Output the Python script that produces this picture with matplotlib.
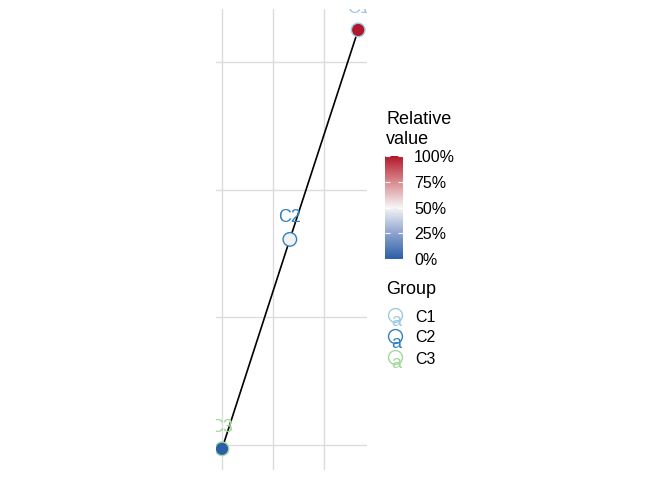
import matplotlib
matplotlib.use("Agg")
import matplotlib.pyplot as plt
from matplotlib.colors import LinearSegmentedColormap
from matplotlib.lines import Line2D
import numpy as np

plt.rcParams['font.family'] = ['Liberation Sans', 'DejaVu Sans']

groups = ["C1", "C2", "C3"]
x_vals = [2.67, 1.33, 0.0]
y_vals = [3.25, 1.61, -0.03]
rel_vals = [1.0, 0.49, 0.0]
group_colors = ["#9ecae1", "#3182bd", "#a1d99b"]
cbar_ticks = [0, 0.25, 0.5, 0.75, 1.0]
cbar_labels = ["0%", "25%", "50%", "75%", "100%"]

W, H = 672, 480
fig = plt.figure(figsize=(6.72, 4.8), dpi=100)

def box(x0, y0, x1, y1):
    # pixel box (top-left origin) -> figure fraction rect
    return [x0 / W, 1 - y1 / H, (x1 - x0) / W, (y1 - y0) / H]

cmap = LinearSegmentedColormap.from_list(
    "rel", ["#2b5ea7", "#8fa3cf", "#f5f5f5", "#d88a8f", "#b2182b"])

ax = fig.add_axes(box(216, 9, 367, 470))
ax.set_xlim(-0.118, 2.843)
ax.set_ylim(-0.196, 3.414)
ax.set_xticks([0, 1, 2])
ax.set_yticks([0, 1, 2, 3])
ax.grid(True, color="#dcdcdc", linewidth=1.0)
ax.set_axisbelow(True)
ax.tick_params(length=0, labelbottom=False, labelleft=False)
for s in ax.spines.values():
    s.set_visible(False)

ax.plot(x_vals, y_vals, color="black", linewidth=1.2, zorder=2)
sc = ax.scatter(x_vals, y_vals, c=rel_vals, cmap=cmap, vmin=0, vmax=1,
                s=95, edgecolors=group_colors, linewidths=1.0, zorder=3)
for g, xv, yv, col in zip(groups, x_vals, y_vals, group_colors):
    ax.annotate(g, (xv, yv), xytext=(0, 15.5), textcoords="offset points",
                ha="center", va="center", fontsize=13, color=col,
                annotation_clip=False, clip_on=True)

# colour bar legend
cax = fig.add_axes(box(385, 156, 403, 259))
cb = fig.colorbar(sc, cax=cax, ticks=cbar_ticks)
cb.outline.set_visible(False)
cb.ax.set_yticklabels(cbar_labels, fontsize=11.5)
cb.ax.tick_params(direction="in", color="white", length=3.5, width=0.8,
                  left=True, right=True, pad=8)
fig.text(386 / W, 1 - 111 / H, "Relative\nvalue", fontsize=13,
         va="top", ha="left", linespacing=1.2)

# group legend
fig.text(386 / W, 1 - 289 / H, "Group", fontsize=13, va="center", ha="left")
for i, (g, col) in enumerate(zip(groups, group_colors)):
    yp = 317 + 21 * i
    fig.add_artist(Line2D([395 / W], [1 - (yp - 2) / H], transform=fig.transFigure,
                          marker="o", markersize=10, markerfacecolor="none",
                          markeredgecolor=col, markeredgewidth=1.0, linestyle="none"))
    fig.text(396 / W, 1 - (yp + 5) / H, "a", fontsize=13, color=col,
             ha="center", va="center")
    fig.text(415 / W, 1 - yp / H, g, fontsize=11.5, ha="left", va="center")

fig.savefig("out.png", dpi=100)
